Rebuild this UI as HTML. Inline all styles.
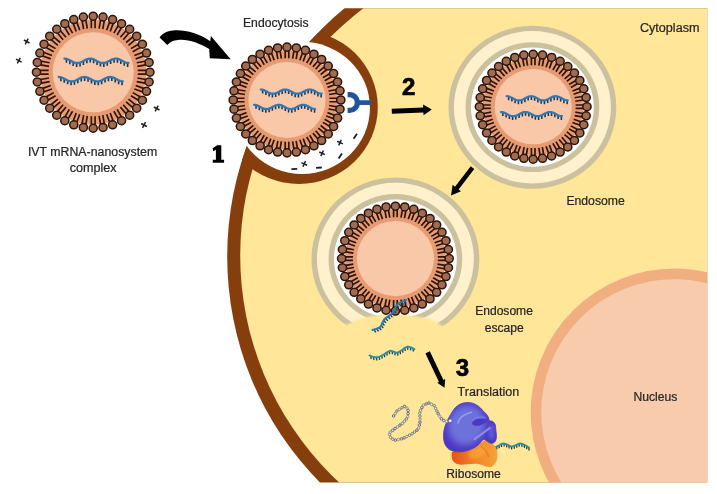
<!DOCTYPE html>
<html><head><meta charset="utf-8"><title>IVT mRNA nanosystem delivery</title>
<style>html,body{margin:0;padding:0;background:#fff;}svg{display:block;filter:blur(0.4px);}</style></head>
<body>
<svg width="717" height="494" viewBox="0 0 717 494" font-family="'Liberation Sans', sans-serif">
<defs>
<clipPath id="frame"><rect x="0" y="8.2" width="707.2" height="474.3"/></clipPath>
<clipPath id="cellc"><circle cx="548.8" cy="256.6" r="321.6"/></clipPath>
<filter id="blur4" x="-40%" y="-40%" width="180%" height="180%"><feGaussianBlur stdDeviation="3.2"/></filter>
<filter id="blur2" x="-30%" y="-30%" width="160%" height="160%"><feGaussianBlur stdDeviation="1.8"/></filter><filter id="blur3" x="-30%" y="-30%" width="160%" height="160%"><feGaussianBlur stdDeviation="0.5"/></filter>
<filter id="blur" x="-20%" y="-20%" width="140%" height="140%"><feGaussianBlur stdDeviation="0.9"/></filter>
<radialGradient id="gpur" cx="0.45" cy="0.42" r="0.62"><stop offset="0" stop-color="#7074DA"/><stop offset="0.55" stop-color="#6A6AD6"/><stop offset="0.85" stop-color="#5545C8"/><stop offset="1" stop-color="#4A32BE"/></radialGradient>
<linearGradient id="gora" x1="0" y1="0" x2="1" y2="0"><stop offset="0" stop-color="#E8501B"/><stop offset="0.45" stop-color="#F07F24"/><stop offset="1" stop-color="#F7A436"/></linearGradient>
</defs>
<rect width="717" height="494" fill="#FFFFFF"/>
<g clip-path="url(#frame)">
<circle cx="548.8" cy="256.6" r="321.6" fill="#873E0D"/>
<circle cx="549.8" cy="255.5" r="309.6" fill="#FFE699"/>
<g clip-path="url(#cellc)"><ellipse cx="298.91" cy="107.1" rx="78.9" ry="76.8" fill="#873E0D"/></g>
<ellipse cx="302.09" cy="107.9" rx="67.85" ry="66.05" fill="#FFFFFF"/>
<circle cx="674.4" cy="412.3" r="138.4" fill="#F8CBAD" stroke="#F1AE80" stroke-width="10.6"/>
<g transform="translate(532.4,107.2) scale(1.03,1)"><circle r="81.5" fill="#CBC19F"/><circle r="76.2" fill="#FFF1CB"/><circle r="64.9" fill="#CBC19F"/><circle r="59.6" fill="#FFFFFF"/></g>
<g transform="translate(395.4,259) scale(1.03,1)"><circle r="81.5" fill="#CBC19F"/><circle r="76.2" fill="#FFF1CB"/><circle r="64.9" fill="#CBC19F"/><circle r="59.6" fill="#FFFFFF"/></g>
<ellipse cx="393.8" cy="343.8" rx="61" ry="29.8" fill="#FFE699" filter="url(#blur)"/>
</g>
<g transform="translate(93.2,72.2) scale(1.012,1)"><circle r="52.65" fill="#E79B73"/><circle r="40" fill="#F9C8A8"/><path d="M-1.85,-44L-1.85,-52.35M1.85,-44L1.85,-52.35M5.82,-43.65L7.27,-51.88M9.46,-43.01L10.91,-51.23M13.31,-41.98L16.17,-49.83M16.79,-40.71L19.64,-48.56M20.4,-39.03L24.57,-46.26M23.6,-37.18L27.78,-44.41M26.87,-34.9L32.23,-41.29M29.7,-32.52L35.07,-38.91M32.52,-29.7L38.91,-35.07M34.9,-26.87L41.29,-32.23M37.18,-23.6L44.41,-27.78M39.03,-20.4L46.26,-24.57M40.71,-16.79L48.56,-19.64M41.98,-13.31L49.83,-16.17M43.01,-9.46L51.23,-10.91M43.65,-5.82L51.88,-7.27M44,-1.85L52.35,-1.85M44,1.85L52.35,1.85M43.65,5.82L51.88,7.27M43.01,9.46L51.23,10.91M41.98,13.31L49.83,16.17M40.71,16.79L48.56,19.64M39.03,20.4L46.26,24.57M37.18,23.6L44.41,27.78M34.9,26.87L41.29,32.23M32.52,29.7L38.91,35.07M29.7,32.52L35.07,38.91M26.87,34.9L32.23,41.29M23.6,37.18L27.78,44.41M20.4,39.03L24.57,46.26M16.79,40.71L19.64,48.56M13.31,41.98L16.17,49.83M9.46,43.01L10.91,51.23M5.82,43.65L7.27,51.88M1.85,44L1.85,52.35M-1.85,44L-1.85,52.35M-5.82,43.65L-7.27,51.88M-9.46,43.01L-10.91,51.23M-13.31,41.98L-16.17,49.83M-16.79,40.71L-19.64,48.56M-20.4,39.03L-24.57,46.26M-23.6,37.18L-27.78,44.41M-26.87,34.9L-32.23,41.29M-29.7,32.52L-35.07,38.91M-32.52,29.7L-38.91,35.07M-34.9,26.87L-41.29,32.23M-37.18,23.6L-44.41,27.78M-39.03,20.4L-46.26,24.57M-40.71,16.79L-48.56,19.64M-41.98,13.31L-49.83,16.17M-43.01,9.46L-51.23,10.91M-43.65,5.82L-51.88,7.27M-44,1.85L-52.35,1.85M-44,-1.85L-52.35,-1.85M-43.65,-5.82L-51.88,-7.27M-43.01,-9.46L-51.23,-10.91M-41.98,-13.31L-49.83,-16.17M-40.71,-16.79L-48.56,-19.64M-39.03,-20.4L-46.26,-24.57M-37.18,-23.6L-44.41,-27.78M-34.9,-26.87L-41.29,-32.23M-32.52,-29.7L-38.91,-35.07M-29.7,-32.52L-35.07,-38.91M-26.87,-34.9L-32.23,-41.29M-23.6,-37.18L-27.78,-44.41M-20.4,-39.03L-24.57,-46.26M-16.79,-40.71L-19.64,-48.56M-13.31,-41.98L-16.17,-49.83M-9.46,-43.01L-10.91,-51.23M-5.82,-43.65L-7.27,-51.88" stroke="#2E1408" stroke-width="1.65" fill="none"/><g fill="#9F6C51" stroke="#2E1408" stroke-width="1.5"><circle cx="0" cy="-56.05" r="4"/><circle cx="9.73" cy="-55.2" r="4"/><circle cx="19.17" cy="-52.67" r="4"/><circle cx="28.02" cy="-48.54" r="4"/><circle cx="36.03" cy="-42.94" r="4"/><circle cx="42.94" cy="-36.03" r="4"/><circle cx="48.54" cy="-28.03" r="4"/><circle cx="52.67" cy="-19.17" r="4"/><circle cx="55.2" cy="-9.73" r="4"/><circle cx="56.05" cy="-0" r="4"/><circle cx="55.2" cy="9.73" r="4"/><circle cx="52.67" cy="19.17" r="4"/><circle cx="48.54" cy="28.02" r="4"/><circle cx="42.94" cy="36.03" r="4"/><circle cx="36.03" cy="42.94" r="4"/><circle cx="28.02" cy="48.54" r="4"/><circle cx="19.17" cy="52.67" r="4"/><circle cx="9.73" cy="55.2" r="4"/><circle cx="0" cy="56.05" r="4"/><circle cx="-9.73" cy="55.2" r="4"/><circle cx="-19.17" cy="52.67" r="4"/><circle cx="-28.03" cy="48.54" r="4"/><circle cx="-36.03" cy="42.94" r="4"/><circle cx="-42.94" cy="36.03" r="4"/><circle cx="-48.54" cy="28.03" r="4"/><circle cx="-52.67" cy="19.17" r="4"/><circle cx="-55.2" cy="9.73" r="4"/><circle cx="-56.05" cy="0" r="4"/><circle cx="-55.2" cy="-9.73" r="4"/><circle cx="-52.67" cy="-19.17" r="4"/><circle cx="-48.54" cy="-28.03" r="4"/><circle cx="-42.94" cy="-36.03" r="4"/><circle cx="-36.03" cy="-42.94" r="4"/><circle cx="-28.03" cy="-48.54" r="4"/><circle cx="-19.17" cy="-52.67" r="4"/><circle cx="-9.73" cy="-55.2" r="4"/></g></g>
<g transform="translate(287,100.0) scale(1.025,1.008)"><circle r="49.25" fill="#E79B73"/><circle r="37.63" fill="#F9C8A8"/><path d="M-1.74,-41.39L-1.74,-48.75M1.74,-41.39L1.74,-48.75M5.47,-41.07L6.75,-48.31M8.9,-40.46L10.18,-47.71M12.52,-39.49L15.04,-46.41M15.79,-38.3L18.31,-45.21M19.19,-36.72L22.87,-43.09M22.2,-34.98L25.88,-41.35M25.27,-32.83L30,-38.46M27.94,-30.59L32.67,-36.23M30.59,-27.94L36.23,-32.67M32.83,-25.27L38.46,-30M34.98,-22.2L41.35,-25.88M36.72,-19.19L43.09,-22.87M38.3,-15.79L45.21,-18.31M39.49,-12.52L46.41,-15.04M40.46,-8.9L47.71,-10.18M41.07,-5.47L48.31,-6.75M41.39,-1.74L48.75,-1.74M41.39,1.74L48.75,1.74M41.07,5.47L48.31,6.75M40.46,8.9L47.71,10.18M39.49,12.52L46.41,15.04M38.3,15.79L45.21,18.31M36.72,19.19L43.09,22.87M34.98,22.2L41.35,25.88M32.83,25.27L38.46,30M30.59,27.94L36.23,32.67M27.94,30.59L32.67,36.23M25.27,32.83L30,38.46M22.2,34.98L25.88,41.35M19.19,36.72L22.87,43.09M15.79,38.3L18.31,45.21M12.52,39.49L15.04,46.41M8.9,40.46L10.18,47.71M5.47,41.07L6.75,48.31M1.74,41.39L1.74,48.75M-1.74,41.39L-1.74,48.75M-5.47,41.07L-6.75,48.31M-8.9,40.46L-10.18,47.71M-12.52,39.49L-15.04,46.41M-15.79,38.3L-18.31,45.21M-19.19,36.72L-22.87,43.09M-22.2,34.98L-25.88,41.35M-25.27,32.83L-30,38.46M-27.94,30.59L-32.67,36.23M-30.59,27.94L-36.23,32.67M-32.83,25.27L-38.46,30M-34.98,22.2L-41.35,25.88M-36.72,19.19L-43.09,22.87M-38.3,15.79L-45.21,18.31M-39.49,12.52L-46.41,15.04M-40.46,8.9L-47.71,10.18M-41.07,5.47L-48.31,6.75M-41.39,1.74L-48.75,1.74M-41.39,-1.74L-48.75,-1.74M-41.07,-5.47L-48.31,-6.75M-40.46,-8.9L-47.71,-10.18M-39.49,-12.52L-46.41,-15.04M-38.3,-15.79L-45.21,-18.31M-36.72,-19.19L-43.09,-22.87M-34.98,-22.2L-41.35,-25.88M-32.83,-25.27L-38.46,-30M-30.59,-27.94L-36.23,-32.67M-27.94,-30.59L-32.67,-36.23M-25.27,-32.83L-30,-38.46M-22.2,-34.98L-25.88,-41.35M-19.19,-36.72L-22.87,-43.09M-15.79,-38.3L-18.31,-45.21M-12.52,-39.49L-15.04,-46.41M-8.9,-40.46L-10.18,-47.71M-5.47,-41.07L-6.75,-48.31" stroke="#2E1408" stroke-width="1.65" fill="none"/><g fill="#9F6C51" stroke="#2E1408" stroke-width="1.5"><circle cx="0" cy="-52.45" r="4"/><circle cx="9.11" cy="-51.65" r="4"/><circle cx="17.94" cy="-49.29" r="4"/><circle cx="26.22" cy="-45.42" r="4"/><circle cx="33.71" cy="-40.18" r="4"/><circle cx="40.18" cy="-33.71" r="4"/><circle cx="45.42" cy="-26.23" r="4"/><circle cx="49.29" cy="-17.94" r="4"/><circle cx="51.65" cy="-9.11" r="4"/><circle cx="52.45" cy="-0" r="4"/><circle cx="51.65" cy="9.11" r="4"/><circle cx="49.29" cy="17.94" r="4"/><circle cx="45.42" cy="26.22" r="4"/><circle cx="40.18" cy="33.71" r="4"/><circle cx="33.71" cy="40.18" r="4"/><circle cx="26.22" cy="45.42" r="4"/><circle cx="17.94" cy="49.29" r="4"/><circle cx="9.11" cy="51.65" r="4"/><circle cx="0" cy="52.45" r="4"/><circle cx="-9.11" cy="51.65" r="4"/><circle cx="-17.94" cy="49.29" r="4"/><circle cx="-26.23" cy="45.42" r="4"/><circle cx="-33.71" cy="40.18" r="4"/><circle cx="-40.18" cy="33.71" r="4"/><circle cx="-45.42" cy="26.23" r="4"/><circle cx="-49.29" cy="17.94" r="4"/><circle cx="-51.65" cy="9.11" r="4"/><circle cx="-52.45" cy="0" r="4"/><circle cx="-51.65" cy="-9.11" r="4"/><circle cx="-49.29" cy="-17.94" r="4"/><circle cx="-45.42" cy="-26.23" r="4"/><circle cx="-40.18" cy="-33.71" r="4"/><circle cx="-33.71" cy="-40.18" r="4"/><circle cx="-26.23" cy="-45.42" r="4"/><circle cx="-17.94" cy="-49.29" r="4"/><circle cx="-9.11" cy="-51.65" r="4"/></g></g>
<g transform="translate(533.2,106.7) scale(1.025,1)"><circle r="49.25" fill="#E79B73"/><circle r="37.63" fill="#F9C8A8"/><path d="M-1.74,-41.39L-1.74,-48.75M1.74,-41.39L1.74,-48.75M5.47,-41.07L6.75,-48.31M8.9,-40.46L10.18,-47.71M12.52,-39.49L15.04,-46.41M15.79,-38.3L18.31,-45.21M19.19,-36.72L22.87,-43.09M22.2,-34.98L25.88,-41.35M25.27,-32.83L30,-38.46M27.94,-30.59L32.67,-36.23M30.59,-27.94L36.23,-32.67M32.83,-25.27L38.46,-30M34.98,-22.2L41.35,-25.88M36.72,-19.19L43.09,-22.87M38.3,-15.79L45.21,-18.31M39.49,-12.52L46.41,-15.04M40.46,-8.9L47.71,-10.18M41.07,-5.47L48.31,-6.75M41.39,-1.74L48.75,-1.74M41.39,1.74L48.75,1.74M41.07,5.47L48.31,6.75M40.46,8.9L47.71,10.18M39.49,12.52L46.41,15.04M38.3,15.79L45.21,18.31M36.72,19.19L43.09,22.87M34.98,22.2L41.35,25.88M32.83,25.27L38.46,30M30.59,27.94L36.23,32.67M27.94,30.59L32.67,36.23M25.27,32.83L30,38.46M22.2,34.98L25.88,41.35M19.19,36.72L22.87,43.09M15.79,38.3L18.31,45.21M12.52,39.49L15.04,46.41M8.9,40.46L10.18,47.71M5.47,41.07L6.75,48.31M1.74,41.39L1.74,48.75M-1.74,41.39L-1.74,48.75M-5.47,41.07L-6.75,48.31M-8.9,40.46L-10.18,47.71M-12.52,39.49L-15.04,46.41M-15.79,38.3L-18.31,45.21M-19.19,36.72L-22.87,43.09M-22.2,34.98L-25.88,41.35M-25.27,32.83L-30,38.46M-27.94,30.59L-32.67,36.23M-30.59,27.94L-36.23,32.67M-32.83,25.27L-38.46,30M-34.98,22.2L-41.35,25.88M-36.72,19.19L-43.09,22.87M-38.3,15.79L-45.21,18.31M-39.49,12.52L-46.41,15.04M-40.46,8.9L-47.71,10.18M-41.07,5.47L-48.31,6.75M-41.39,1.74L-48.75,1.74M-41.39,-1.74L-48.75,-1.74M-41.07,-5.47L-48.31,-6.75M-40.46,-8.9L-47.71,-10.18M-39.49,-12.52L-46.41,-15.04M-38.3,-15.79L-45.21,-18.31M-36.72,-19.19L-43.09,-22.87M-34.98,-22.2L-41.35,-25.88M-32.83,-25.27L-38.46,-30M-30.59,-27.94L-36.23,-32.67M-27.94,-30.59L-32.67,-36.23M-25.27,-32.83L-30,-38.46M-22.2,-34.98L-25.88,-41.35M-19.19,-36.72L-22.87,-43.09M-15.79,-38.3L-18.31,-45.21M-12.52,-39.49L-15.04,-46.41M-8.9,-40.46L-10.18,-47.71M-5.47,-41.07L-6.75,-48.31" stroke="#2E1408" stroke-width="1.65" fill="none"/><g fill="#9F6C51" stroke="#2E1408" stroke-width="1.5"><circle cx="0" cy="-52.45" r="4"/><circle cx="9.11" cy="-51.65" r="4"/><circle cx="17.94" cy="-49.29" r="4"/><circle cx="26.22" cy="-45.42" r="4"/><circle cx="33.71" cy="-40.18" r="4"/><circle cx="40.18" cy="-33.71" r="4"/><circle cx="45.42" cy="-26.23" r="4"/><circle cx="49.29" cy="-17.94" r="4"/><circle cx="51.65" cy="-9.11" r="4"/><circle cx="52.45" cy="-0" r="4"/><circle cx="51.65" cy="9.11" r="4"/><circle cx="49.29" cy="17.94" r="4"/><circle cx="45.42" cy="26.22" r="4"/><circle cx="40.18" cy="33.71" r="4"/><circle cx="33.71" cy="40.18" r="4"/><circle cx="26.22" cy="45.42" r="4"/><circle cx="17.94" cy="49.29" r="4"/><circle cx="9.11" cy="51.65" r="4"/><circle cx="0" cy="52.45" r="4"/><circle cx="-9.11" cy="51.65" r="4"/><circle cx="-17.94" cy="49.29" r="4"/><circle cx="-26.23" cy="45.42" r="4"/><circle cx="-33.71" cy="40.18" r="4"/><circle cx="-40.18" cy="33.71" r="4"/><circle cx="-45.42" cy="26.23" r="4"/><circle cx="-49.29" cy="17.94" r="4"/><circle cx="-51.65" cy="9.11" r="4"/><circle cx="-52.45" cy="0" r="4"/><circle cx="-51.65" cy="-9.11" r="4"/><circle cx="-49.29" cy="-17.94" r="4"/><circle cx="-45.42" cy="-26.23" r="4"/><circle cx="-40.18" cy="-33.71" r="4"/><circle cx="-33.71" cy="-40.18" r="4"/><circle cx="-26.23" cy="-45.42" r="4"/><circle cx="-17.94" cy="-49.29" r="4"/><circle cx="-9.11" cy="-51.65" r="4"/></g></g>
<g transform="translate(395.4,258.6) scale(1.025,1)"><circle r="49.25" fill="#E79B73"/><circle r="37.63" fill="#F9C8A8"/><path d="M-1.74,-41.39L-1.74,-48.75M1.74,-41.39L1.74,-48.75M5.47,-41.07L6.75,-48.31M8.9,-40.46L10.18,-47.71M12.52,-39.49L15.04,-46.41M15.79,-38.3L18.31,-45.21M19.19,-36.72L22.87,-43.09M22.2,-34.98L25.88,-41.35M25.27,-32.83L30,-38.46M27.94,-30.59L32.67,-36.23M30.59,-27.94L36.23,-32.67M32.83,-25.27L38.46,-30M34.98,-22.2L41.35,-25.88M36.72,-19.19L43.09,-22.87M38.3,-15.79L45.21,-18.31M39.49,-12.52L46.41,-15.04M40.46,-8.9L47.71,-10.18M41.07,-5.47L48.31,-6.75M41.39,-1.74L48.75,-1.74M41.39,1.74L48.75,1.74M41.07,5.47L48.31,6.75M40.46,8.9L47.71,10.18M39.49,12.52L46.41,15.04M38.3,15.79L45.21,18.31M36.72,19.19L43.09,22.87M34.98,22.2L41.35,25.88M32.83,25.27L38.46,30M30.59,27.94L36.23,32.67M27.94,30.59L32.67,36.23M25.27,32.83L30,38.46M22.2,34.98L25.88,41.35M19.19,36.72L22.87,43.09M15.79,38.3L18.31,45.21M12.52,39.49L15.04,46.41M8.9,40.46L10.18,47.71M5.47,41.07L6.75,48.31M1.74,41.39L1.74,48.75M-1.74,41.39L-1.74,48.75M-5.47,41.07L-6.75,48.31M-8.9,40.46L-10.18,47.71M-12.52,39.49L-15.04,46.41M-15.79,38.3L-18.31,45.21M-19.19,36.72L-22.87,43.09M-22.2,34.98L-25.88,41.35M-25.27,32.83L-30,38.46M-27.94,30.59L-32.67,36.23M-30.59,27.94L-36.23,32.67M-32.83,25.27L-38.46,30M-34.98,22.2L-41.35,25.88M-36.72,19.19L-43.09,22.87M-38.3,15.79L-45.21,18.31M-39.49,12.52L-46.41,15.04M-40.46,8.9L-47.71,10.18M-41.07,5.47L-48.31,6.75M-41.39,1.74L-48.75,1.74M-41.39,-1.74L-48.75,-1.74M-41.07,-5.47L-48.31,-6.75M-40.46,-8.9L-47.71,-10.18M-39.49,-12.52L-46.41,-15.04M-38.3,-15.79L-45.21,-18.31M-36.72,-19.19L-43.09,-22.87M-34.98,-22.2L-41.35,-25.88M-32.83,-25.27L-38.46,-30M-30.59,-27.94L-36.23,-32.67M-27.94,-30.59L-32.67,-36.23M-25.27,-32.83L-30,-38.46M-22.2,-34.98L-25.88,-41.35M-19.19,-36.72L-22.87,-43.09M-15.79,-38.3L-18.31,-45.21M-12.52,-39.49L-15.04,-46.41M-8.9,-40.46L-10.18,-47.71M-5.47,-41.07L-6.75,-48.31" stroke="#2E1408" stroke-width="1.65" fill="none"/><g fill="#9F6C51" stroke="#2E1408" stroke-width="1.5"><circle cx="0" cy="-52.45" r="4"/><circle cx="9.11" cy="-51.65" r="4"/><circle cx="17.94" cy="-49.29" r="4"/><circle cx="26.22" cy="-45.42" r="4"/><circle cx="33.71" cy="-40.18" r="4"/><circle cx="40.18" cy="-33.71" r="4"/><circle cx="45.42" cy="-26.23" r="4"/><circle cx="49.29" cy="-17.94" r="4"/><circle cx="51.65" cy="-9.11" r="4"/><circle cx="52.45" cy="-0" r="4"/><circle cx="51.65" cy="9.11" r="4"/><circle cx="49.29" cy="17.94" r="4"/><circle cx="45.42" cy="26.22" r="4"/><circle cx="40.18" cy="33.71" r="4"/><circle cx="33.71" cy="40.18" r="4"/><circle cx="26.22" cy="45.42" r="4"/><circle cx="17.94" cy="49.29" r="4"/><circle cx="9.11" cy="51.65" r="4"/><circle cx="0" cy="52.45" r="4"/><circle cx="-9.11" cy="51.65" r="4"/><circle cx="-17.94" cy="49.29" r="4"/><circle cx="-26.23" cy="45.42" r="4"/><circle cx="-33.71" cy="40.18" r="4"/><circle cx="-40.18" cy="33.71" r="4"/><circle cx="-45.42" cy="26.23" r="4"/><circle cx="-49.29" cy="17.94" r="4"/><circle cx="-51.65" cy="9.11" r="4"/><circle cx="-52.45" cy="0" r="4"/><circle cx="-51.65" cy="-9.11" r="4"/><circle cx="-49.29" cy="-17.94" r="4"/><circle cx="-45.42" cy="-26.23" r="4"/><circle cx="-40.18" cy="-33.71" r="4"/><circle cx="-33.71" cy="-40.18" r="4"/><circle cx="-26.23" cy="-45.42" r="4"/><circle cx="-17.94" cy="-49.29" r="4"/><circle cx="-9.11" cy="-51.65" r="4"/></g></g>
<g transform="translate(64.4,60.8)"><path d="M2.04,-1.93v3.95M5.44,-0.52v3.95M8.84,1.22v3.95M12.24,2.18v3.95M15.64,1.71v3.95M19.04,0.13v3.95M22.44,-1.54v3.95M25.84,-2.2v3.95M29.24,-1.43v3.95M32.64,0.28v3.95M36.04,1.8v3.95M39.44,2.15v3.95M42.84,1.1v3.95M46.24,-0.67v3.95M49.64,-2v3.95M53.04,-2.03v3.95M56.44,-0.73v3.95M59.84,1.04v3.95M63.24,2.13v3.95" stroke="#1C3550" stroke-width="1.6" fill="none"/><path d="M0,-2.2L0.8,-2.16L1.6,-2.03L2.4,-1.83L3.2,-1.56L4,-1.23L4.8,-0.85L5.6,-0.44L6.4,-0.01L7.2,0.41L8,0.83L8.8,1.21L9.6,1.54L10.4,1.82L11.2,2.02L12,2.15L12.8,2.2L13.6,2.16L14.4,2.04L15.2,1.85L16,1.58L16.8,1.25L17.6,0.88L18.4,0.47L19.2,0.04L20,-0.39L20.8,-0.8L21.6,-1.18L22.4,-1.52L23.2,-1.8L24,-2.01L24.8,-2.15L25.6,-2.2L26.4,-2.17L27.2,-2.05L28,-1.86L28.8,-1.6L29.6,-1.27L30.4,-0.9L31.2,-0.49L32,-0.07L32.8,0.36L33.6,0.78L34.4,1.16L35.2,1.5L36,1.79L36.8,2L37.6,2.14L38.4,2.2L39.2,2.17L40,2.06L40.8,1.88L41.6,1.62L42.4,1.3L43.2,0.93L44,0.52L44.8,0.09L45.6,-0.33L46.4,-0.75L47.2,-1.14L48,-1.48L48.8,-1.77L49.6,-1.99L50.4,-2.13L51.2,-2.2L52,-2.18L52.8,-2.07L53.6,-1.89L54.4,-1.63L55.2,-1.32L56,-0.95L56.8,-0.55L57.6,-0.12L58.4,0.31L59.2,0.73L60,1.12L60.8,1.46L61.6,1.75L62.4,1.98L63.2,2.13L64,2.2" stroke="#2F78B3" stroke-width="2.3" fill="none" stroke-linecap="round" stroke-linejoin="round"/></g>
<g transform="translate(58.8,79.2)"><path d="M2.04,-1.93v3.95M5.44,-0.52v3.95M8.84,1.22v3.95M12.24,2.18v3.95M15.64,1.71v3.95M19.04,0.13v3.95M22.44,-1.54v3.95M25.84,-2.2v3.95M29.24,-1.43v3.95M32.64,0.28v3.95M36.04,1.8v3.95M39.44,2.15v3.95M42.84,1.1v3.95M46.24,-0.67v3.95M49.64,-2v3.95M53.04,-2.03v3.95M56.44,-0.73v3.95M59.84,1.04v3.95M63.24,2.13v3.95" stroke="#1C3550" stroke-width="1.6" fill="none"/><path d="M0,-2.2L0.8,-2.16L1.6,-2.03L2.4,-1.83L3.2,-1.56L4,-1.23L4.8,-0.85L5.6,-0.44L6.4,-0.01L7.2,0.41L8,0.83L8.8,1.21L9.6,1.54L10.4,1.82L11.2,2.02L12,2.15L12.8,2.2L13.6,2.16L14.4,2.04L15.2,1.85L16,1.58L16.8,1.25L17.6,0.88L18.4,0.47L19.2,0.04L20,-0.39L20.8,-0.8L21.6,-1.18L22.4,-1.52L23.2,-1.8L24,-2.01L24.8,-2.15L25.6,-2.2L26.4,-2.17L27.2,-2.05L28,-1.86L28.8,-1.6L29.6,-1.27L30.4,-0.9L31.2,-0.49L32,-0.07L32.8,0.36L33.6,0.78L34.4,1.16L35.2,1.5L36,1.79L36.8,2L37.6,2.14L38.4,2.2L39.2,2.17L40,2.06L40.8,1.88L41.6,1.62L42.4,1.3L43.2,0.93L44,0.52L44.8,0.09L45.6,-0.33L46.4,-0.75L47.2,-1.14L48,-1.48L48.8,-1.77L49.6,-1.99L50.4,-2.13L51.2,-2.2L52,-2.18L52.8,-2.07L53.6,-1.89L54.4,-1.63L55.2,-1.32L56,-0.95L56.8,-0.55L57.6,-0.12L58.4,0.31L59.2,0.73L60,1.12L60.8,1.46L61.6,1.75L62.4,1.98L63.2,2.13L64,2.2" stroke="#2F78B3" stroke-width="2.3" fill="none" stroke-linecap="round" stroke-linejoin="round"/></g>
<g transform="translate(260.7,91.6)"><path d="M1.95,-1.84v3.8M5.2,-0.49v3.8M8.45,1.18v3.8M11.7,2.08v3.8M14.95,1.62v3.8M18.2,0.09v3.8M21.45,-1.49v3.8M24.7,-2.1v3.8M27.95,-1.33v3.8M31.2,0.31v3.8M34.45,1.75v3.8M37.7,2.04v3.8M40.95,1v3.8M44.2,-0.7v3.8M47.45,-1.94v3.8M50.7,-1.9v3.8M53.95,-0.62v3.8M57.2,1.07v3.8M60.45,2.06v3.8" stroke="#1C3550" stroke-width="1.55" fill="none"/><path d="M0,-2.1L0.76,-2.06L1.52,-1.94L2.29,-1.75L3.05,-1.49L3.81,-1.17L4.58,-0.81L5.34,-0.42L6.1,-0.01L6.86,0.39L7.62,0.79L8.39,1.15L9.15,1.47L9.91,1.73L10.68,1.93L11.44,2.05L12.2,2.1L12.96,2.07L13.72,1.95L14.49,1.76L15.25,1.51L16.01,1.2L16.77,0.84L17.54,0.45L18.3,0.04L19.06,-0.37L19.82,-0.76L20.59,-1.13L21.35,-1.45L22.11,-1.72L22.88,-1.92L23.64,-2.05L24.4,-2.1L25.16,-2.07L25.93,-1.96L26.69,-1.78L27.45,-1.53L28.21,-1.22L28.98,-0.86L29.74,-0.47L30.5,-0.07L31.26,0.34L32.02,0.74L32.79,1.11L33.55,1.43L34.31,1.7L35.08,1.91L35.84,2.04L36.6,2.1L37.36,2.07L38.12,1.97L38.89,1.79L39.65,1.55L40.41,1.24L41.17,0.89L41.94,0.5L42.7,0.09L43.46,-0.32L44.23,-0.71L44.99,-1.08L45.75,-1.41L46.51,-1.69L47.27,-1.9L48.04,-2.04L48.8,-2.1L49.56,-2.08L50.33,-1.98L51.09,-1.81L51.85,-1.56L52.61,-1.26L53.38,-0.91L54.14,-0.53L54.9,-0.12L55.66,0.29L56.42,0.69L57.19,1.06L57.95,1.39L58.71,1.67L59.48,1.89L60.24,2.03L61,2.1" stroke="#2F78B3" stroke-width="2.2" fill="none" stroke-linecap="round" stroke-linejoin="round"/></g>
<g transform="translate(254.1,106.9)"><path d="M1.95,-1.84v3.8M5.2,-0.49v3.8M8.45,1.18v3.8M11.7,2.08v3.8M14.95,1.62v3.8M18.2,0.09v3.8M21.45,-1.49v3.8M24.7,-2.1v3.8M27.95,-1.33v3.8M31.2,0.31v3.8M34.45,1.75v3.8M37.7,2.04v3.8M40.95,1v3.8M44.2,-0.7v3.8M47.45,-1.94v3.8M50.7,-1.9v3.8M53.95,-0.62v3.8M57.2,1.07v3.8M60.45,2.06v3.8" stroke="#1C3550" stroke-width="1.55" fill="none"/><path d="M0,-2.1L0.76,-2.06L1.52,-1.94L2.29,-1.75L3.05,-1.49L3.81,-1.17L4.58,-0.81L5.34,-0.42L6.1,-0.01L6.86,0.39L7.62,0.79L8.39,1.15L9.15,1.47L9.91,1.73L10.68,1.93L11.44,2.05L12.2,2.1L12.96,2.07L13.72,1.95L14.49,1.76L15.25,1.51L16.01,1.2L16.77,0.84L17.54,0.45L18.3,0.04L19.06,-0.37L19.82,-0.76L20.59,-1.13L21.35,-1.45L22.11,-1.72L22.88,-1.92L23.64,-2.05L24.4,-2.1L25.16,-2.07L25.93,-1.96L26.69,-1.78L27.45,-1.53L28.21,-1.22L28.98,-0.86L29.74,-0.47L30.5,-0.07L31.26,0.34L32.02,0.74L32.79,1.11L33.55,1.43L34.31,1.7L35.08,1.91L35.84,2.04L36.6,2.1L37.36,2.07L38.12,1.97L38.89,1.79L39.65,1.55L40.41,1.24L41.17,0.89L41.94,0.5L42.7,0.09L43.46,-0.32L44.23,-0.71L44.99,-1.08L45.75,-1.41L46.51,-1.69L47.27,-1.9L48.04,-2.04L48.8,-2.1L49.56,-2.08L50.33,-1.98L51.09,-1.81L51.85,-1.56L52.61,-1.26L53.38,-0.91L54.14,-0.53L54.9,-0.12L55.66,0.29L56.42,0.69L57.19,1.06L57.95,1.39L58.71,1.67L59.48,1.89L60.24,2.03L61,2.1" stroke="#2F78B3" stroke-width="2.2" fill="none" stroke-linecap="round" stroke-linejoin="round"/></g>
<g transform="translate(506.7,98.3)"><path d="M1.95,-1.84v3.8M5.2,-0.49v3.8M8.45,1.18v3.8M11.7,2.08v3.8M14.95,1.62v3.8M18.2,0.09v3.8M21.45,-1.49v3.8M24.7,-2.1v3.8M27.95,-1.33v3.8M31.2,0.31v3.8M34.45,1.75v3.8M37.7,2.04v3.8M40.95,1v3.8M44.2,-0.7v3.8M47.45,-1.94v3.8M50.7,-1.9v3.8M53.95,-0.62v3.8M57.2,1.07v3.8M60.45,2.06v3.8" stroke="#1C3550" stroke-width="1.55" fill="none"/><path d="M0,-2.1L0.76,-2.06L1.52,-1.94L2.29,-1.75L3.05,-1.49L3.81,-1.17L4.58,-0.81L5.34,-0.42L6.1,-0.01L6.86,0.39L7.62,0.79L8.39,1.15L9.15,1.47L9.91,1.73L10.68,1.93L11.44,2.05L12.2,2.1L12.96,2.07L13.72,1.95L14.49,1.76L15.25,1.51L16.01,1.2L16.77,0.84L17.54,0.45L18.3,0.04L19.06,-0.37L19.82,-0.76L20.59,-1.13L21.35,-1.45L22.11,-1.72L22.88,-1.92L23.64,-2.05L24.4,-2.1L25.16,-2.07L25.93,-1.96L26.69,-1.78L27.45,-1.53L28.21,-1.22L28.98,-0.86L29.74,-0.47L30.5,-0.07L31.26,0.34L32.02,0.74L32.79,1.11L33.55,1.43L34.31,1.7L35.08,1.91L35.84,2.04L36.6,2.1L37.36,2.07L38.12,1.97L38.89,1.79L39.65,1.55L40.41,1.24L41.17,0.89L41.94,0.5L42.7,0.09L43.46,-0.32L44.23,-0.71L44.99,-1.08L45.75,-1.41L46.51,-1.69L47.27,-1.9L48.04,-2.04L48.8,-2.1L49.56,-2.08L50.33,-1.98L51.09,-1.81L51.85,-1.56L52.61,-1.26L53.38,-0.91L54.14,-0.53L54.9,-0.12L55.66,0.29L56.42,0.69L57.19,1.06L57.95,1.39L58.71,1.67L59.48,1.89L60.24,2.03L61,2.1" stroke="#2F78B3" stroke-width="2.2" fill="none" stroke-linecap="round" stroke-linejoin="round"/></g>
<g transform="translate(500.9,114.1)"><path d="M1.95,-1.84v3.8M5.2,-0.49v3.8M8.45,1.18v3.8M11.7,2.08v3.8M14.95,1.62v3.8M18.2,0.09v3.8M21.45,-1.49v3.8M24.7,-2.1v3.8M27.95,-1.33v3.8M31.2,0.31v3.8M34.45,1.75v3.8M37.7,2.04v3.8M40.95,1v3.8M44.2,-0.7v3.8M47.45,-1.94v3.8M50.7,-1.9v3.8M53.95,-0.62v3.8M57.2,1.07v3.8M60.45,2.06v3.8" stroke="#1C3550" stroke-width="1.55" fill="none"/><path d="M0,-2.1L0.76,-2.06L1.52,-1.94L2.29,-1.75L3.05,-1.49L3.81,-1.17L4.58,-0.81L5.34,-0.42L6.1,-0.01L6.86,0.39L7.62,0.79L8.39,1.15L9.15,1.47L9.91,1.73L10.68,1.93L11.44,2.05L12.2,2.1L12.96,2.07L13.72,1.95L14.49,1.76L15.25,1.51L16.01,1.2L16.77,0.84L17.54,0.45L18.3,0.04L19.06,-0.37L19.82,-0.76L20.59,-1.13L21.35,-1.45L22.11,-1.72L22.88,-1.92L23.64,-2.05L24.4,-2.1L25.16,-2.07L25.93,-1.96L26.69,-1.78L27.45,-1.53L28.21,-1.22L28.98,-0.86L29.74,-0.47L30.5,-0.07L31.26,0.34L32.02,0.74L32.79,1.11L33.55,1.43L34.31,1.7L35.08,1.91L35.84,2.04L36.6,2.1L37.36,2.07L38.12,1.97L38.89,1.79L39.65,1.55L40.41,1.24L41.17,0.89L41.94,0.5L42.7,0.09L43.46,-0.32L44.23,-0.71L44.99,-1.08L45.75,-1.41L46.51,-1.69L47.27,-1.9L48.04,-2.04L48.8,-2.1L49.56,-2.08L50.33,-1.98L51.09,-1.81L51.85,-1.56L52.61,-1.26L53.38,-0.91L54.14,-0.53L54.9,-0.12L55.66,0.29L56.42,0.69L57.19,1.06L57.95,1.39L58.71,1.67L59.48,1.89L60.24,2.03L61,2.1" stroke="#2F78B3" stroke-width="2.2" fill="none" stroke-linecap="round" stroke-linejoin="round"/></g>
<path d="M373.82,329.62l2.01,2.68M376.59,328.76l2.01,2.68M379.2,327.51l2.01,2.68M381.18,325.46l2.01,2.68M382.4,322.83l2.01,2.68M383.77,320.27l2.01,2.68M385.69,318.13l2.01,2.68M388.09,316.51l2.01,2.68M390.36,314.71l2.01,2.68M392.48,312.72l2.01,2.68M393.96,310.25l2.01,2.68M395.28,307.66l2.01,2.68M396.75,305.17l2.01,2.68M398.99,303.35l2.01,2.68M401.52,301.93l2.01,2.68M404.17,300.75l2.01,2.68" stroke="#1B3F5C" stroke-width="1.35" fill="none"/><path d="M372.4,329.9L372.57,329.86L372.78,329.82L373.03,329.77L373.31,329.72L373.61,329.66L373.93,329.59L374.27,329.52L374.61,329.44L374.97,329.34L375.32,329.24L375.66,329.13L376,329L376.34,328.86L376.7,328.71L377.08,328.56L377.47,328.39L377.86,328.21L378.25,328.02L378.64,327.83L379.01,327.62L379.37,327.41L379.71,327.18L380.02,326.95L380.3,326.7L380.55,326.44L380.76,326.17L380.95,325.88L381.12,325.58L381.28,325.27L381.42,324.96L381.55,324.63L381.69,324.31L381.83,323.98L381.97,323.65L382.13,323.32L382.3,323L382.48,322.67L382.66,322.34L382.84,321.99L383.02,321.64L383.2,321.29L383.39,320.94L383.58,320.6L383.78,320.26L383.99,319.92L384.21,319.6L384.45,319.29L384.7,319L384.97,318.73L385.25,318.47L385.55,318.23L385.86,318L386.17,317.78L386.5,317.57L386.83,317.36L387.17,317.14L387.5,316.92L387.84,316.69L388.17,316.45L388.5,316.2L388.83,315.93L389.18,315.66L389.53,315.38L389.89,315.09L390.25,314.8L390.61,314.51L390.96,314.21L391.3,313.91L391.63,313.61L391.94,313.3L392.23,313L392.5,312.7L392.74,312.4L392.96,312.1L393.15,311.8L393.33,311.49L393.5,311.19L393.66,310.88L393.81,310.57L393.96,310.26L394.11,309.95L394.26,309.64L394.42,309.32L394.6,309L394.78,308.67L394.95,308.34L395.12,307.99L395.29,307.64L395.45,307.29L395.63,306.94L395.8,306.6L395.99,306.26L396.19,305.92L396.41,305.6L396.64,305.29L396.9,305L397.18,304.72L397.47,304.46L397.78,304.2L398.1,303.96L398.44,303.72L398.78,303.49L399.14,303.26L399.5,303.04L399.87,302.83L400.24,302.62L400.62,302.41L401,302.2L401.4,301.99L401.84,301.77L402.3,301.56L402.79,301.34L403.27,301.13L403.76,300.92L404.23,300.73L404.67,300.55L405.08,300.38L405.45,300.23L405.76,300.1L406,300" stroke="#2C7CB0" stroke-width="2.1" fill="none" stroke-linecap="round" stroke-linejoin="round"/>
<path d="M370.83,355.98l0.32,3.15M373.57,356.91l0.32,3.15M376.44,357.3l0.32,3.15M379.27,356.78l0.32,3.15M381.87,355.5l0.32,3.15M384.39,354.07l0.32,3.15M386.82,352.48l0.32,3.15M389.32,351.03l0.32,3.15M392.14,351.11l0.32,3.15M394.83,352.19l0.32,3.15M397.59,352.51l0.32,3.15M400.15,351.15l0.32,3.15M402.6,349.6l0.32,3.15M404.92,347.86l0.32,3.15M407.55,346.74l0.32,3.15M410.4,347.21l0.32,3.15M413.04,348.38l0.32,3.15" stroke="#1A4650" stroke-width="1.3" fill="none"/><path d="M369.5,355.4L369.69,355.48L369.93,355.58L370.2,355.7L370.51,355.84L370.84,355.98L371.2,356.14L371.57,356.29L371.96,356.44L372.35,356.58L372.74,356.71L373.13,356.82L373.5,356.9L373.87,356.97L374.24,357.04L374.62,357.11L375.01,357.17L375.4,357.23L375.79,357.27L376.2,357.3L376.6,357.3L377.02,357.29L377.44,357.26L377.87,357.19L378.3,357.1L378.74,356.97L379.2,356.81L379.66,356.63L380.13,356.41L380.61,356.18L381.09,355.93L381.58,355.66L382.07,355.39L382.55,355.11L383.04,354.84L383.52,354.56L384,354.3L384.48,354.02L384.97,353.72L385.47,353.4L385.97,353.06L386.47,352.72L386.97,352.38L387.46,352.06L387.94,351.75L388.41,351.48L388.86,351.24L389.29,351.04L389.7,350.9L390.08,350.81L390.45,350.77L390.79,350.78L391.12,350.81L391.44,350.88L391.74,350.97L392.04,351.07L392.33,351.19L392.62,351.3L392.91,351.41L393.2,351.51L393.5,351.6L393.79,351.69L394.07,351.8L394.35,351.93L394.61,352.07L394.87,352.21L395.14,352.35L395.4,352.48L395.68,352.59L395.96,352.67L396.26,352.72L396.57,352.73L396.9,352.7L397.25,352.62L397.62,352.5L398,352.35L398.39,352.16L398.79,351.95L399.2,351.72L399.61,351.48L400.03,351.23L400.45,350.97L400.87,350.7L401.29,350.45L401.7,350.2L402.11,349.94L402.53,349.65L402.95,349.34L403.38,349.02L403.8,348.69L404.23,348.36L404.66,348.05L405.08,347.75L405.49,347.48L405.9,347.24L406.31,347.04L406.7,346.9L407.09,346.8L407.47,346.75L407.85,346.73L408.22,346.74L408.59,346.77L408.95,346.83L409.31,346.91L409.66,347L410,347.09L410.34,347.2L410.68,347.3L411,347.4L411.33,347.51L411.66,347.65L411.99,347.8L412.33,347.97L412.65,348.15L412.97,348.33L413.27,348.51L413.55,348.69L413.81,348.85L414.04,348.99L414.24,349.11L414.4,349.2" stroke="#2E8C9E" stroke-width="1.9" fill="none" stroke-linecap="round" stroke-linejoin="round"/>
<path d="M496.68,446.55l0.15,3M499.07,445.29l0.15,3M501.42,443.96l0.15,3M504.04,443.54l0.15,3M506.61,444.35l0.15,3M509.06,445.47l0.15,3M511.56,446.4l0.15,3M514.16,445.76l0.15,3M516.66,444.74l0.15,3M519.11,443.62l0.15,3M521.77,443.79l0.15,3M524.28,444.8l0.15,3M526.63,446.11l0.15,3M528.89,447.59l0.15,3" stroke="#16363D" stroke-width="1.25" fill="none"/><path d="M495.5,447.2L495.64,447.12L495.81,447.03L496.01,446.92L496.23,446.8L496.47,446.67L496.72,446.53L497,446.38L497.29,446.23L497.58,446.07L497.88,445.91L498.19,445.76L498.5,445.6L498.82,445.43L499.15,445.24L499.5,445.04L499.86,444.82L500.23,444.6L500.61,444.38L501,444.17L501.38,443.98L501.77,443.81L502.15,443.67L502.53,443.56L502.9,443.5L503.27,443.48L503.64,443.49L504.01,443.53L504.38,443.6L504.75,443.7L505.12,443.81L505.49,443.93L505.86,444.06L506.22,444.2L506.58,444.34L506.94,444.47L507.3,444.6L507.65,444.74L508,444.89L508.34,445.07L508.69,445.26L509.02,445.45L509.36,445.64L509.7,445.83L510.04,446L510.38,446.14L510.71,446.27L511.06,446.35L511.4,446.4L511.75,446.41L512.09,446.38L512.44,446.32L512.79,446.24L513.14,446.14L513.49,446.02L513.84,445.89L514.19,445.75L514.54,445.61L514.89,445.46L515.25,445.33L515.6,445.2L515.95,445.07L516.31,444.91L516.66,444.74L517.01,444.56L517.37,444.37L517.73,444.19L518.08,444.01L518.44,443.86L518.8,443.72L519.16,443.61L519.53,443.53L519.9,443.5L520.27,443.5L520.65,443.54L521.03,443.6L521.42,443.69L521.81,443.8L522.19,443.93L522.58,444.07L522.97,444.22L523.36,444.39L523.74,444.56L524.12,444.73L524.5,444.9L524.89,445.09L525.3,445.31L525.72,445.55L526.14,445.8L526.57,446.07L526.99,446.34L527.39,446.6L527.77,446.85L528.11,447.08L528.42,447.29L528.69,447.47L528.9,447.6" stroke="#2E8C9E" stroke-width="1.8" fill="none" stroke-linecap="round" stroke-linejoin="round"/>
<path d="M347.6,94.55 H349.5 A7.95,7.95 0 0 1 349.5,110.45 H347.6" fill="none" stroke="#20559B" stroke-width="5.3"/>
<path d="M359,102.6 H371" stroke="#20559B" stroke-width="4.7" fill="none"/>
<path transform="translate(26.7,41.5) rotate(28)" d="M-3.2,0H3.2M0,-3.2V3.2" stroke="#1d1d24" stroke-width="1.5" fill="none"/>
<path transform="translate(18.8,60.6) rotate(28)" d="M-3.2,0H3.2M0,-3.2V3.2" stroke="#1d1d24" stroke-width="1.5" fill="none"/>
<path transform="translate(156.7,108.5) rotate(28)" d="M-3.2,0H3.2M0,-3.2V3.2" stroke="#1d1d24" stroke-width="1.5" fill="none"/>
<path transform="translate(144,125) rotate(28)" d="M-3.2,0H3.2M0,-3.2V3.2" stroke="#1d1d24" stroke-width="1.5" fill="none"/>
<path transform="translate(294.3,169) rotate(-4)" d="M-2.9,0H2.9" stroke="#1B1E2B" stroke-width="1.8" fill="none"/>
<path transform="translate(304.2,163.9) rotate(25)" d="M-3.1,0H3.1M0,-3.1V3.1" stroke="#1B1E2B" stroke-width="1.5" fill="none"/>
<path transform="translate(318.9,167.7) rotate(-4)" d="M-2.9,0H2.9" stroke="#1B1E2B" stroke-width="1.8" fill="none"/>
<path transform="translate(322.1,153.3) rotate(25)" d="M-3.1,0H3.1M0,-3.1V3.1" stroke="#1B1E2B" stroke-width="1.5" fill="none"/>
<path transform="translate(340.3,156) rotate(-55)" d="M-3.0,0H3.0" stroke="#1B1E2B" stroke-width="1.8" fill="none"/>
<path transform="translate(340,142.6) rotate(25)" d="M-3.1,0H3.1M0,-3.1V3.1" stroke="#1B1E2B" stroke-width="1.5" fill="none"/>
<path transform="translate(355.3,136.2) rotate(-55)" d="M-3.0,0H3.0" stroke="#1B1E2B" stroke-width="1.8" fill="none"/>
<path d="M159.6,37.4 C163,33 167,31 173,30.5 C185,29.5 198,33 210.2,41.2 L210.9,36 L230.7,59.2 L209.8,58.2 L209.2,49 C199,43 188,39 178,40 C173,40.5 170,42 167.3,45 Z" fill="#000"/>
<polygon points="391.91,113.85 423.42,112.51 423.53,115.31 431.8,109.6 423.08,104.62 423.2,107.41 391.69,108.75" fill="#000"/>
<polygon points="470.72,166.33 455.02,186.7 452.64,184.87 451,195.6 460.96,191.28 458.58,189.45 474.28,169.07" fill="#000"/>
<polygon points="425.39,353.46 439.01,382 437.26,382.84 444.5,387.8 445.2,379.05 443.44,379.89 429.81,351.34" fill="#000"/>
<path d="M452,452 C451,457 452,462 457,464 C463,466 470,463 478,464 C484,465 488,468.5 492,466.5 C497,464 498,457 497.3,451.5 C496.5,446 491,441 485,440 C478,446 462,452 452,452 Z" fill="url(#gora)"/>
<ellipse cx="477" cy="452.5" rx="9" ry="5.5" fill="#FBB040" opacity="0.55" filter="url(#blur2)" transform="rotate(-25 477 452.5)"/>
<path d="M481.5,446.5 C484.5,449 487.5,452 488.5,456.5" stroke="#E8771F" stroke-width="1.6" fill="none" opacity="0.7" stroke-linecap="round" filter="url(#blur3)"/>
<clipPath id="purc"><path d="M467.9,402.5 C461,402.5 456,406 453.1,410.5 C447,420 443.5,428 443.5,435.4 C443.5,441 444.5,445 447.5,447.9 C451,451.5 457,452.5 463,451.5 C470,450.5 477,447 481,442 C483,439.5 484,439 485.5,440 C488,442 490,443.8 492.8,443.2 C496,442.3 497,438 496.2,433 C495.5,428 496,424.5 493.9,422.4 C492,420.5 490.5,421 489.4,420.7 C488.5,416 486.5,414 483.7,411.6 C479.5,406 474,402.5 467.9,402.5 Z"/></clipPath>
<path d="M467.9,402.5 C461,402.5 456,406 453.1,410.5 C447,420 443.5,428 443.5,435.4 C443.5,441 444.5,445 447.5,447.9 C451,451.5 457,452.5 463,451.5 C470,450.5 477,447 481,442 C483,439.5 484,439 485.5,440 C488,442 490,443.8 492.8,443.2 C496,442.3 497,438 496.2,433 C495.5,428 496,424.5 493.9,422.4 C492,420.5 490.5,421 489.4,420.7 C488.5,416 486.5,414 483.7,411.6 C479.5,406 474,402.5 467.9,402.5 Z" fill="#4C37C3" stroke="#4C37C3" stroke-width="0.8"/>
<g clip-path="url(#purc)"><ellipse cx="466.5" cy="425" rx="18.5" ry="20.5" fill="#6D72DB" filter="url(#blur4)" transform="rotate(20 466.5 425)"/><ellipse cx="491.5" cy="432" rx="3.2" ry="8" fill="#5E58D2" filter="url(#blur2)"/></g>
<path d="M472.3,422.6 C473.5,418.6 480,417.6 487.5,420.2 C485,423.2 481.5,425.8 476.5,425.8 C473.5,425.8 471.7,424.6 472.3,422.6 Z" fill="#4A39C1"/>
<path d="M473.2,420.2 C475.5,417 481,416.2 485.5,417.6" stroke="#7A80E2" stroke-width="1.5" fill="none" stroke-linecap="round" opacity="0.85"/>
<path d="M457.8,423 C459.5,418 464,414 471.5,412.3" stroke="#9A9CEB" stroke-width="1.5" fill="none" stroke-linecap="round"/>
<path d="M474.6,439.2 L489.8,428" stroke="#918CEA" stroke-width="2.1" fill="none" stroke-linecap="round"/>
<g fill="#F3EFD6" stroke-width="1.0"><circle cx="393.6" cy="416" r="1.25" stroke="#5E6678"/><circle cx="395.26" cy="413.5" r="1.25" stroke="#7E9488"/><circle cx="396.93" cy="411.01" r="1.25" stroke="#8A6E6E"/><circle cx="399.44" cy="409.38" r="1.25" stroke="#5F8A96"/><circle cx="401.99" cy="407.8" r="1.25" stroke="#857F62"/><circle cx="404.53" cy="406.39" r="1.25" stroke="#4E6580"/><circle cx="406.93" cy="408.18" r="1.25" stroke="#9A9088"/><circle cx="408.22" cy="410.49" r="1.25" stroke="#70628A"/><circle cx="408.03" cy="413.49" r="1.25" stroke="#5E6678"/><circle cx="407.84" cy="416.48" r="1.25" stroke="#7E9488"/><circle cx="406.29" cy="418.94" r="1.25" stroke="#8A6E6E"/><circle cx="404.38" cy="421.26" r="1.25" stroke="#5F8A96"/><circle cx="402.41" cy="423.5" r="1.25" stroke="#857F62"/><circle cx="399.92" cy="425.18" r="1.25" stroke="#4E6580"/><circle cx="397.44" cy="426.86" r="1.25" stroke="#9A9088"/><circle cx="394.99" cy="428.59" r="1.25" stroke="#70628A"/><circle cx="392.59" cy="430.39" r="1.25" stroke="#5E6678"/><circle cx="390.19" cy="432.19" r="1.25" stroke="#7E9488"/><circle cx="389.62" cy="434.56" r="1.25" stroke="#8A6E6E"/><circle cx="390.57" cy="437.41" r="1.25" stroke="#5F8A96"/><circle cx="392.78" cy="439.21" r="1.25" stroke="#857F62"/><circle cx="395.47" cy="440.14" r="1.25" stroke="#4E6580"/><circle cx="398.41" cy="439.51" r="1.25" stroke="#9A9088"/><circle cx="401.34" cy="438.89" r="1.25" stroke="#70628A"/><circle cx="404.14" cy="437.88" r="1.25" stroke="#5E6678"/><circle cx="406.82" cy="436.54" r="1.25" stroke="#7E9488"/><circle cx="409.51" cy="435.2" r="1.25" stroke="#8A6E6E"/><circle cx="412.14" cy="433.77" r="1.25" stroke="#5F8A96"/><circle cx="414.54" cy="431.97" r="1.25" stroke="#857F62"/><circle cx="416.94" cy="430.17" r="1.25" stroke="#4E6580"/><circle cx="418.72" cy="427.97" r="1.25" stroke="#9A9088"/><circle cx="419.35" cy="425.04" r="1.25" stroke="#70628A"/><circle cx="419.98" cy="422.11" r="1.25" stroke="#5E6678"/><circle cx="420.09" cy="419.13" r="1.25" stroke="#7E9488"/><circle cx="419.93" cy="416.14" r="1.25" stroke="#8A6E6E"/><circle cx="419.76" cy="413.14" r="1.25" stroke="#5F8A96"/><circle cx="420.53" cy="410.34" r="1.25" stroke="#857F62"/><circle cx="421.87" cy="407.66" r="1.25" stroke="#4E6580"/><circle cx="423.33" cy="405.1" r="1.25" stroke="#9A9088"/><circle cx="426.11" cy="403.96" r="1.25" stroke="#70628A"/><circle cx="428.88" cy="402.99" r="1.25" stroke="#5E6678"/><circle cx="431.55" cy="404.35" r="1.25" stroke="#7E9488"/><circle cx="434.22" cy="405.71" r="1.25" stroke="#8A6E6E"/><circle cx="435.58" cy="408.34" r="1.25" stroke="#5F8A96"/><circle cx="436.85" cy="411.06" r="1.25" stroke="#857F62"/><circle cx="438.2" cy="413.73" r="1.25" stroke="#4E6580"/><circle cx="439.81" cy="416.27" r="1.25" stroke="#9A9088"/><circle cx="441.42" cy="418.8" r="1.25" stroke="#70628A"/><circle cx="443.79" cy="420.52" r="1.25" stroke="#5E6678"/><circle cx="446.5" cy="421.46" r="1.25" stroke="#7E9488"/><circle cx="449.45" cy="420.95" r="1.25" stroke="#8A6E6E"/></g>
<circle cx="450.3" cy="420.8" r="1.3" fill="#F3EFEA"/>
<text x="243" y="27" font-size="12" font-weight="normal" fill="#262626" text-anchor="start" textLength="65.6" lengthAdjust="spacingAndGlyphs" stroke="#262626" stroke-width="0.22">Endocytosis</text>
<text x="639.9" y="31.7" font-size="12" font-weight="normal" fill="#262626" text-anchor="start" textLength="59.6" lengthAdjust="spacingAndGlyphs" stroke="#262626" stroke-width="0.22">Cytoplasm</text>
<text x="566.4" y="205.2" font-size="12" font-weight="normal" fill="#262626" text-anchor="start" textLength="58.4" lengthAdjust="spacingAndGlyphs" stroke="#262626" stroke-width="0.22">Endosome</text>
<text x="475.2" y="314.9" font-size="12" font-weight="normal" fill="#262626" text-anchor="start" textLength="57.7" lengthAdjust="spacingAndGlyphs" stroke="#262626" stroke-width="0.22">Endosome</text>
<text x="484.7" y="331.7" font-size="12" font-weight="normal" fill="#262626" text-anchor="start" textLength="39" lengthAdjust="spacingAndGlyphs" stroke="#262626" stroke-width="0.22">escape</text>
<text x="457.6" y="396" font-size="12" font-weight="normal" fill="#262626" text-anchor="start" textLength="61.6" lengthAdjust="spacingAndGlyphs" stroke="#262626" stroke-width="0.22">Translation</text>
<text x="446.3" y="478.2" font-size="12" font-weight="normal" fill="#262626" text-anchor="start" textLength="54.4" lengthAdjust="spacingAndGlyphs" stroke="#262626" stroke-width="0.22">Ribosome</text>
<text x="633.5" y="400.7" font-size="12" font-weight="normal" fill="#262626" text-anchor="start" textLength="43.9" lengthAdjust="spacingAndGlyphs" stroke="#262626" stroke-width="0.22">Nucleus</text>
<text x="27.9" y="156.3" font-size="12" font-weight="normal" fill="#262626" text-anchor="start" textLength="129.3" lengthAdjust="spacingAndGlyphs" stroke="#262626" stroke-width="0.22">IVT mRNA-nanosystem</text>
<text x="69.7" y="172.4" font-size="12" font-weight="normal" fill="#262626" text-anchor="start" textLength="46.9" lengthAdjust="spacingAndGlyphs" stroke="#262626" stroke-width="0.22">complex</text>
<path d="M217.2,145.3 L221.3,145.3 L221.3,159.7 L224.1,159.7 L224.1,162.7 L212.8,162.7 L212.8,159.7 L215.9,159.7 L215.9,149.7 L213.3,151.3 L212.6,148.3 Z" fill="#000"/>
<text x="402" y="95" font-size="24" font-weight="bold" fill="#000" text-anchor="start" stroke="#000" stroke-width="0.7">2</text>
<text x="455.7" y="376" font-size="24" font-weight="bold" fill="#000" text-anchor="start" stroke="#000" stroke-width="0.7">3</text>
</svg>
</body></html>
